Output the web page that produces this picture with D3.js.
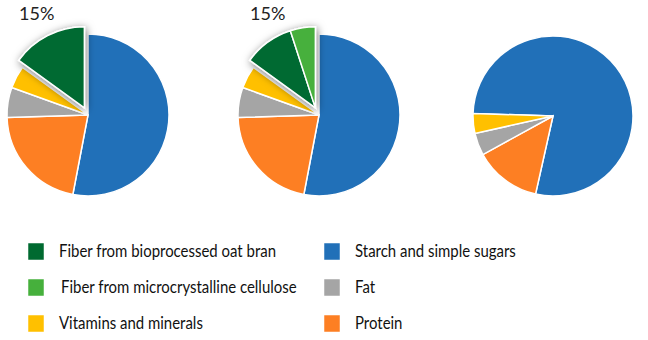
<!DOCTYPE html>
<html>
<head>
<meta charset="utf-8">
<script src="https://cdn.jsdelivr.net/npm/d3@7"></script>
<style>
  body { margin: 0; background: #fff; }
  svg { display: block; font-family: Lato, "Open Sans", sans-serif; }
</style>
</head>
<body>
<svg id="chart" width="648" height="340"></svg>
<script>
// categories, in drawing order (clockwise from the start angle)
var categories = ['Starch and simple sugars', 'Protein', 'Fat', 'Vitamins and minerals',
                  'Fiber from bioprocessed oat bran', 'Fiber from microcrystalline cellulose'];
var colors = ['#2170b8', '#fd7f23', '#a5a5a5', '#ffc000', '#006a30', '#46b03c'];

// share of each category (%) per pie
var pieA = [53, 21.5, 6, 4.5, 15, 0];
var pieB = [53, 21.5, 6, 4.5, 10, 5];
var pieC = [78, 13.5, 4.5, 4, 0, 0];
var pieLabels = ['15%', '15%', ''];

// legend layout: two columns
var legendLeft = ['Fiber from bioprocessed oat bran', 'Fiber from microcrystalline cellulose', 'Vitamins and minerals'];
var legendRight = ['Starch and simple sugars', 'Fat', 'Protein'];

var svg = d3.select('#chart');

var defs = svg.append('defs');
var f = defs.append('filter').attr('id', 'shadow')
    .attr('x', '-30%').attr('y', '-30%').attr('width', '160%').attr('height', '160%');
f.append('feDropShadow')
    .attr('dx', 1).attr('dy', 2).attr('stdDeviation', 4)
    .attr('flood-color', '#000').attr('flood-opacity', 0.55);

var color = d3.scaleOrdinal().domain(categories).range(colors);

var pies = [
  { values: pieA, cx: 88, cy: 115, r: 81, start: 0, explode: [4, 5] },
  { values: pieB, cx: 319, cy: 115, r: 81, start: 0, explode: [4, 5] },
  { values: pieC, cx: 553, cy: 116, r: 80, start: -88.2, explode: [] }
];

pies.forEach(function(p, pi) {
  var rad = p.start * Math.PI / 180;
  var layout = d3.pie().sort(null).value(function(d) { return d.v; })
      .startAngle(rad).endAngle(rad + 2 * Math.PI);
  var data = layout(p.values.map(function(v, i) { return { v: v, c: categories[i], i: i }; }))
      .filter(function(d) { return d.data.v > 0; });
  var arc = d3.arc().innerRadius(0).outerRadius(p.r);

  var g = svg.append('g').attr('transform', 'translate(' + p.cx + ',' + p.cy + ')');

  var normal = data.filter(function(d) { return p.explode.indexOf(d.data.i) < 0; });
  var out = data.filter(function(d) { return p.explode.indexOf(d.data.i) >= 0; });

  g.selectAll('path.n').data(normal).enter().append('path')
      .attr('d', arc)
      .attr('fill', function(d) { return color(d.data.c); })
      .attr('stroke', '#fff').attr('stroke-width', 1.5);

  if (out.length) {
    var a0 = d3.min(out, function(d) { return d.startAngle; });
    var a1 = d3.max(out, function(d) { return d.endAngle; });
    var mid = (a0 + a1) / 2, off = 8;
    var ge = g.append('g')
        .attr('transform', 'translate(' + (off * Math.sin(mid)) + ',' + (-off * Math.cos(mid)) + ')')
        .attr('filter', 'url(#shadow)');
    ge.selectAll('path').data(out).enter().append('path')
        .attr('d', arc)
        .attr('fill', function(d) { return color(d.data.c); })
        .attr('stroke', '#fff').attr('stroke-width', 1.5);
  }

  if (pieLabels[pi]) {
    svg.append('text')
        .attr('x', p.cx - 69).attr('y', 20)
        .attr('font-size', 18).attr('fill', '#222')
        .text(pieLabels[pi]);
  }
});

// legend
var rowY = d3.scalePoint().domain([0, 1, 2]).range([251, 323]);
function legendCol(items, x) {
  var lg = svg.append('g').selectAll('g').data(items).enter().append('g')
      .attr('transform', function(d, i) { return 'translate(' + x + ',' + rowY(i) + ')'; });
  lg.append('rect')
      .attr('x', 0).attr('y', -8).attr('width', 16).attr('height', 17)
      .attr('fill', function(d) { return color(d); })
      .attr('stroke', '#fff').attr('stroke-width', 0.5);
  // narrow the glyphs a little, the original face is a condensed sans
  lg.append('text')
      .attr('transform', function(d, i) {
        return 'translate(' + (i === 1 && x < 100 ? 33 : 31) + ',0) scale(0.88,1)';
      })
      .attr('dy', '0.35em')
      .attr('font-size', 17).attr('fill', '#111')
      .text(function(d) { return d; });
}
legendCol(legendLeft, 28);
legendCol(legendRight, 324);
</script>
</body>
</html>
